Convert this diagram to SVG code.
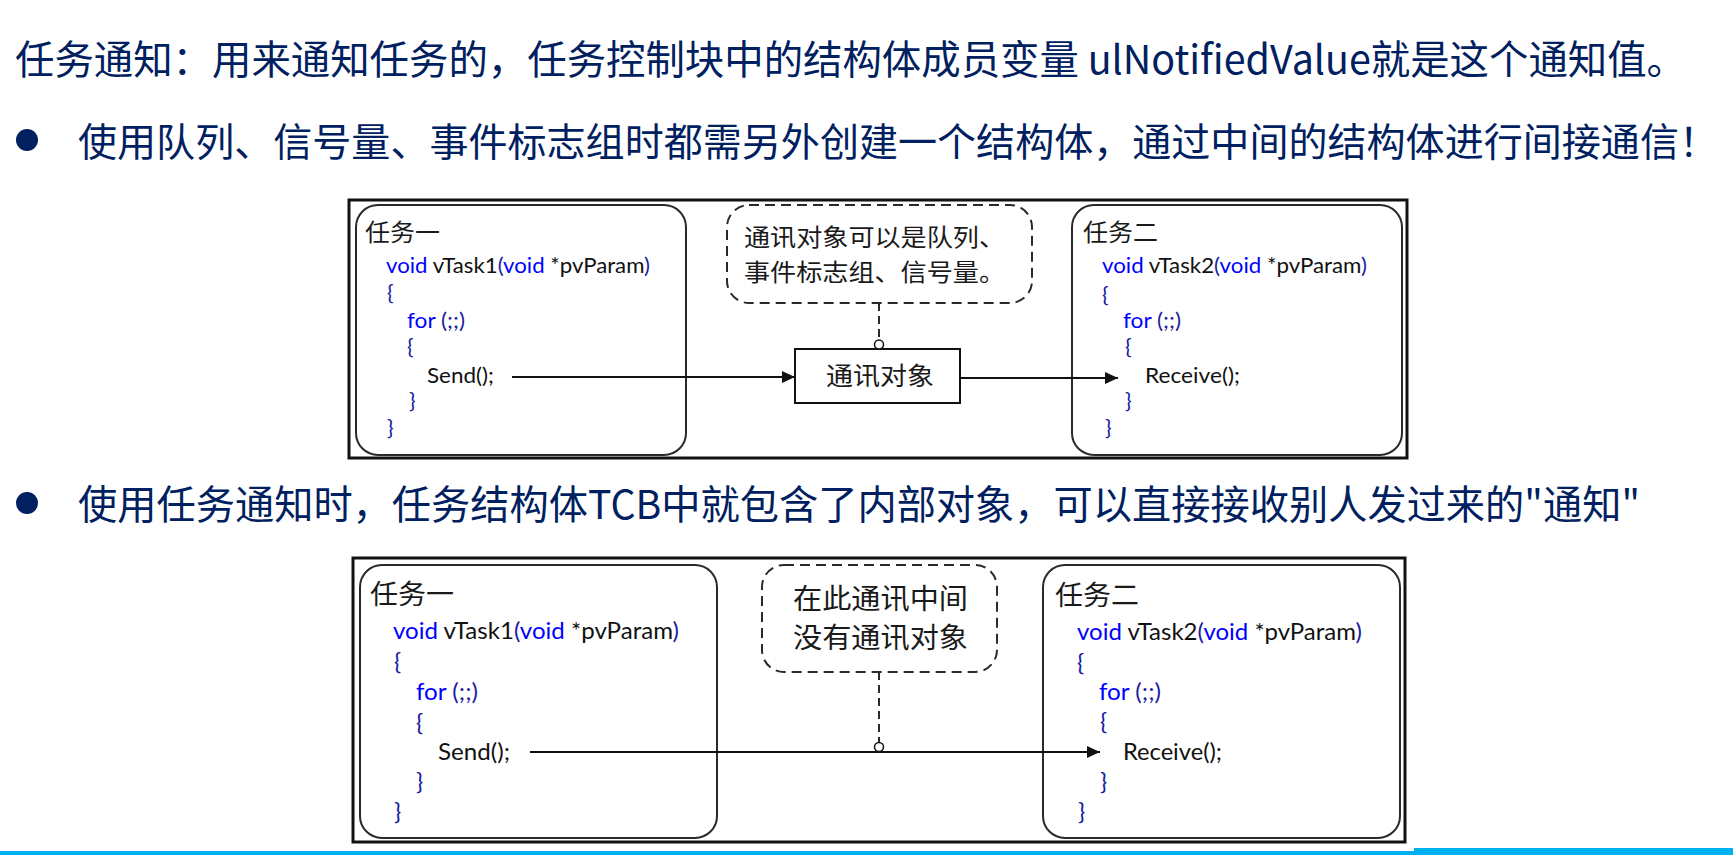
<svg xmlns="http://www.w3.org/2000/svg" width="1733" height="855" viewBox="0 0 1733 855">
<style>
.hd{font-family:"Noto Sans CJK SC","Noto Sans",sans-serif;font-size:40px;fill:#002060}
.cn{font-family:"Liberation Serif","Noto Sans CJK SC",serif;fill:#1a1a1a}
.cd{font-family:Lato,"Liberation Sans",sans-serif;fill:#111}
.kw{fill:#0000ff}
.br{fill:#1c1ca0}
.frame{fill:#fff;stroke:#111;stroke-width:3}
.task{fill:none;stroke:#2a2a2a;stroke-width:2}
.call{fill:#fff;stroke:#2a2a2a;stroke-width:2;stroke-dasharray:10 6}
.box{fill:#fff;stroke:#111;stroke-width:2}
.ln{fill:none;stroke:#111;stroke-width:2}
.dl{fill:none;stroke:#2a2a2a;stroke-width:2;stroke-dasharray:8 5}
.dot{fill:#fff;stroke:#111;stroke-width:1.5}
</style>
<defs>
<marker id="ah" markerUnits="userSpaceOnUse" markerWidth="14" markerHeight="12" refX="13" refY="6" orient="auto">
<path d="M0,0 L13,6 L0,12 Z" fill="#111"/>
</marker>
</defs>
<rect width="1733" height="855" fill="#fff"/>

<g id="header">
<text class="hd" x="15" y="74" textLength="1671" lengthAdjust="spacingAndGlyphs">任务通知：用来通知任务的，任务控制块中的结构体成员变量 ulNotifiedValue就是这个通知值。</text>
<circle cx="27" cy="140" r="11" fill="#002060"/>
<text class="hd" x="78" y="156" font-size="39" style="font-size:39px" textLength="1640" lengthAdjust="spacingAndGlyphs">使用队列、信号量、事件标志组时都需另外创建一个结构体，通过中间的结构体进行间接通信！</text>
<circle cx="27" cy="503" r="11" fill="#002060"/>
<text class="hd" x="78" y="519" textLength="1562" lengthAdjust="spacingAndGlyphs">使用任务通知时，任务结构体TCB中就包含了内部对象，可以直接接收别人发过来的"通知"</text>
</g>

<g id="diagram1">
<rect id="frame1" class="frame" x="349" y="200" width="1058" height="258"/>
<g id="d1-task1">
<rect class="task" x="356" y="205" width="330" height="250" rx="22"/>
<text class="cn" x="365" y="241" font-size="24" textLength="75" lengthAdjust="spacingAndGlyphs">任务一</text>
<g class="cd" font-size="22">
<text x="386" y="273" textLength="264" lengthAdjust="spacingAndGlyphs"><tspan class="kw">void</tspan> vTask1<tspan class="br">(</tspan><tspan class="kw">void</tspan> *pvParam<tspan class="br">)</tspan></text>
<text class="br" x="387" y="300">{</text>
<text x="407" y="328" textLength="58" lengthAdjust="spacingAndGlyphs"><tspan class="kw">for</tspan> <tspan class="br">(;;)</tspan></text>
<text class="br" x="407" y="354">{</text>
<text x="427" y="383" textLength="67" lengthAdjust="spacingAndGlyphs">Send();</text>
<text class="br" x="409" y="408">}</text>
<text class="br" x="387" y="435">}</text>
</g>
</g>
<g id="d1-note">
<rect class="call" x="727" y="205" width="305" height="98" rx="22"/>
<text class="cn" x="744" y="246" font-size="24" textLength="261" lengthAdjust="spacingAndGlyphs">通讯对象可以是队列、</text>
<text class="cn" x="744" y="281" font-size="24" textLength="261" lengthAdjust="spacingAndGlyphs">事件标志组、信号量。</text>
</g>
<g id="d1-object">
<rect class="box" x="795" y="349" width="165" height="54"/>
<text class="cn" x="826" y="385" font-size="25" textLength="108" lengthAdjust="spacingAndGlyphs">通讯对象</text>
</g>
<g id="d1-task2">
<rect class="task" x="1072" y="205" width="330" height="250" rx="22"/>
<text class="cn" x="1083" y="241" font-size="24" textLength="75" lengthAdjust="spacingAndGlyphs">任务二</text>
<g class="cd" font-size="22">
<text x="1102" y="273" textLength="265" lengthAdjust="spacingAndGlyphs"><tspan class="kw">void</tspan> vTask2<tspan class="br">(</tspan><tspan class="kw">void</tspan> *pvParam<tspan class="br">)</tspan></text>
<text class="br" x="1102" y="302">{</text>
<text x="1123" y="328" textLength="58" lengthAdjust="spacingAndGlyphs"><tspan class="kw">for</tspan> <tspan class="br">(;;)</tspan></text>
<text class="br" x="1125" y="354">{</text>
<text x="1145" y="383" textLength="95" lengthAdjust="spacingAndGlyphs">Receive();</text>
<text class="br" x="1125" y="408">}</text>
<text class="br" x="1105" y="435">}</text>
</g>
</g>
</g>

<g id="diagram2">
<rect id="frame2" class="frame" x="353" y="558" width="1052" height="284"/>
<g id="d2-task1">
<rect class="task" x="360" y="565" width="357" height="273" rx="22"/>
<text class="cn" x="370" y="604" font-size="27" textLength="84" lengthAdjust="spacingAndGlyphs">任务一</text>
<g class="cd" font-size="24">
<text x="393" y="639" textLength="286" lengthAdjust="spacingAndGlyphs"><tspan class="kw">void</tspan> vTask1<tspan class="br">(</tspan><tspan class="kw">void</tspan> *pvParam<tspan class="br">)</tspan></text>
<text class="br" x="394" y="670">{</text>
<text x="416" y="700" textLength="62" lengthAdjust="spacingAndGlyphs"><tspan class="kw">for</tspan> <tspan class="br">(;;)</tspan></text>
<text class="br" x="416" y="731">{</text>
<text x="438" y="760" textLength="72" lengthAdjust="spacingAndGlyphs">Send();</text>
<text class="br" x="416" y="790">}</text>
<text class="br" x="394" y="820">}</text>
</g>
</g>
<g id="d2-note">
<rect class="call" x="762" y="565" width="235" height="107" rx="22"/>
<text class="cn" x="793" y="609" font-size="28" textLength="175" lengthAdjust="spacingAndGlyphs">在此通讯中间</text>
<text class="cn" x="793" y="648" font-size="28" textLength="175" lengthAdjust="spacingAndGlyphs">没有通讯对象</text>
</g>
<g id="d2-task2">
<rect class="task" x="1043" y="565" width="357" height="273" rx="22"/>
<text class="cn" x="1055" y="605" font-size="27" textLength="84" lengthAdjust="spacingAndGlyphs">任务二</text>
<g class="cd" font-size="24">
<text x="1077" y="640" textLength="285" lengthAdjust="spacingAndGlyphs"><tspan class="kw">void</tspan> vTask2<tspan class="br">(</tspan><tspan class="kw">void</tspan> *pvParam<tspan class="br">)</tspan></text>
<text class="br" x="1077" y="671">{</text>
<text x="1099" y="700" textLength="62" lengthAdjust="spacingAndGlyphs"><tspan class="kw">for</tspan> <tspan class="br">(;;)</tspan></text>
<text class="br" x="1100" y="730">{</text>
<text x="1123" y="760" textLength="99" lengthAdjust="spacingAndGlyphs">Receive();</text>
<text class="br" x="1100" y="790">}</text>
<text class="br" x="1078" y="820">}</text>
</g>
</g>
</g>

<g id="connectors">
<line class="ln" x1="512" y1="377" x2="795" y2="377" marker-end="url(#ah)"/>
<line class="ln" x1="960" y1="378" x2="1118" y2="378" marker-end="url(#ah)"/>
<line class="dl" x1="879" y1="303" x2="879" y2="340"/>
<circle class="dot" cx="879" cy="344.5" r="4.5"/>
<line class="ln" x1="530" y1="752" x2="1100" y2="752" marker-end="url(#ah)"/>
<line class="dl" x1="879" y1="672" x2="879" y2="742"/>
<circle class="dot" cx="879" cy="747" r="4.5"/>
</g>

<g id="bottom-bar">
<rect x="0" y="851" width="1414" height="4" fill="#00b0f0"/>
<rect x="1414" y="848" width="319" height="7" fill="#00b0f0"/>
</g>
</svg>
